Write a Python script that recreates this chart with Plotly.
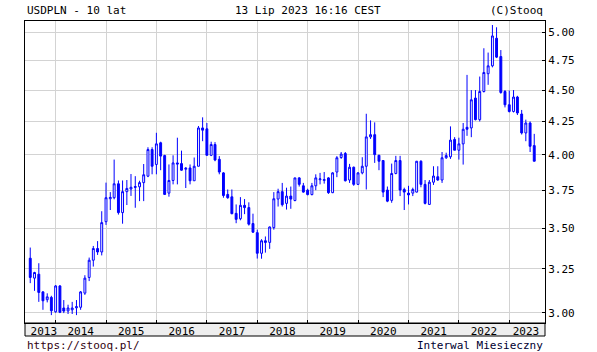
import pandas as pd
import plotly.graph_objects as go

# ---------------- data (USDPLN monthly candles, Jul 2013 - Jul 2023) ----------------
months = pd.date_range("2013-07-01", periods=121, freq="MS")

opens = [
    3.313, 3.195, 3.218, 3.116, 3.072, 3.085, 3.005, 3.150, 3.026, 3.010, 3.016, 3.027,
    3.030, 3.109, 3.199, 3.301, 3.372, 3.351, 3.541, 3.692, 3.699, 3.794, 3.600, 3.740,
    3.758, 3.775, 3.773, 3.802, 3.847, 4.038, 3.930, 4.088, 3.994, 3.730, 3.817, 3.941,
    3.936, 3.896, 3.905, 3.815, 3.917, 4.200, 4.193, 3.996, 4.075, 3.967, 3.870, 3.721,
    3.705, 3.595, 3.560, 3.648, 3.633, 3.529, 3.471, 3.343, 3.420, 3.410, 3.503, 3.690,
    3.740, 3.661, 3.710, 3.680, 3.835, 3.780, 3.750, 3.720, 3.780, 3.822, 3.817, 3.835,
    3.733, 3.876, 3.980, 4.009, 3.820, 3.910, 3.790, 3.870, 3.917, 4.132, 4.149, 3.996,
    3.958, 3.751, 3.681, 3.866, 3.958, 3.755, 3.730, 3.730, 3.737, 3.953, 3.790, 3.654,
    3.805, 3.843, 3.820, 3.978, 3.985, 4.113, 4.033, 4.080, 4.205, 4.200, 4.435, 4.264,
    4.488, 4.636, 4.703, 4.945, 4.783, 4.488, 4.381, 4.328, 4.443, 4.308, 4.162, 4.238,
    4.067,
]
highs = [
    3.378, 3.232, 3.283, 3.121, 3.108, 3.094, 3.155, 3.155, 3.070, 3.044, 3.060, 3.070,
    3.121, 3.212, 3.317, 3.388, 3.418, 3.609, 3.802, 3.737, 3.965, 3.817, 3.817, 3.820,
    3.862, 3.847, 3.815, 3.933, 4.055, 4.055, 4.163, 4.096, 4.000, 3.930, 3.996, 4.126,
    4.030, 3.910, 3.930, 3.980, 4.215, 4.282, 4.238, 4.096, 4.093, 3.990, 3.876, 3.755,
    3.755, 3.654, 3.703, 3.690, 3.668, 3.593, 3.490, 3.430, 3.447, 3.510, 3.737, 3.760,
    3.800, 3.767, 3.775, 3.835, 3.840, 3.800, 3.760, 3.800, 3.860, 3.870, 3.876, 3.840,
    3.875, 3.990, 4.020, 4.020, 3.934, 3.915, 3.875, 3.982, 4.310, 4.258, 4.243, 4.000,
    3.960, 3.775, 3.936, 3.992, 3.992, 3.767, 3.780, 3.767, 3.955, 3.960, 3.820, 3.820,
    3.917, 3.917, 4.020, 4.015, 4.212, 4.130, 4.126, 4.238, 4.626, 4.500, 4.500, 4.612,
    4.856, 4.818, 5.066, 5.045, 4.840, 4.500, 4.496, 4.500, 4.453, 4.340, 4.264, 4.250,
    4.155,
]
lows = [
    3.166, 3.122, 3.060, 3.016, 3.057, 2.987, 3.000, 2.998, 2.998, 2.993, 2.993, 2.987,
    3.016, 3.099, 3.178, 3.263, 3.333, 3.330, 3.520, 3.617, 3.688, 3.587, 3.528, 3.650,
    3.711, 3.632, 3.676, 3.676, 3.840, 3.860, 3.860, 3.889, 3.720, 3.706, 3.790, 3.790,
    3.885, 3.765, 3.790, 3.815, 3.917, 4.100, 3.996, 3.990, 3.953, 3.860, 3.699, 3.692,
    3.589, 3.531, 3.550, 3.590, 3.516, 3.470, 3.311, 3.310, 3.347, 3.370, 3.490, 3.640,
    3.640, 3.620, 3.625, 3.675, 3.775, 3.733, 3.715, 3.715, 3.750, 3.790, 3.795, 3.725,
    3.730, 3.840, 3.970, 3.810, 3.800, 3.780, 3.785, 3.860, 3.755, 4.117, 3.941, 3.889,
    3.703, 3.669, 3.665, 3.860, 3.710, 3.617, 3.654, 3.710, 3.735, 3.770, 3.654, 3.650,
    3.786, 3.815, 3.800, 3.970, 3.970, 4.033, 3.965, 3.929, 4.140, 4.130, 4.258, 4.250,
    4.480, 4.543, 4.690, 4.770, 4.470, 4.360, 4.320, 4.320, 4.300, 4.150, 4.100, 4.020,
    3.953,
]
closes = [
    3.199, 3.228, 3.113, 3.066, 3.088, 3.011, 3.150, 3.002, 3.009, 3.026, 3.026, 3.033,
    3.116, 3.195, 3.301, 3.372, 3.351, 3.535, 3.699, 3.701, 3.794, 3.600, 3.740, 3.762,
    3.770, 3.770, 3.802, 3.857, 4.038, 3.917, 4.080, 3.990, 3.721, 3.817, 3.941, 3.933,
    3.889, 3.903, 3.815, 3.917, 4.200, 4.183, 3.996, 4.075, 3.962, 3.876, 3.714, 3.699,
    3.593, 3.556, 3.648, 3.633, 3.525, 3.474, 3.343, 3.420, 3.410, 3.507, 3.692, 3.740,
    3.652, 3.710, 3.690, 3.835, 3.790, 3.737, 3.720, 3.780, 3.835, 3.828, 3.823, 3.733,
    3.870, 3.978, 4.005, 3.815, 3.910, 3.790, 3.870, 3.917, 4.132, 4.149, 4.001, 3.953,
    3.737, 3.676, 3.866, 3.958, 3.751, 3.737, 3.718, 3.755, 3.953, 3.790, 3.661, 3.805,
    3.848, 3.820, 3.978, 3.994, 4.108, 4.033, 4.080, 4.190, 4.190, 4.421, 4.264, 4.488,
    4.646, 4.703, 4.966, 4.778, 4.480, 4.381, 4.328, 4.443, 4.316, 4.162, 4.238, 4.062,
    3.953,
]

y_ticks = [3.00, 3.25, 3.50, 3.75, 4.00, 4.25, 4.50, 4.75, 5.00]
year_labels = ["2013", "2014", "2015", "2016", "2017", "2018", "2019", "2020", "2021", "2022", "2023"]
year_label_pos = ["2013-10-07", "2014-07-02", "2015-07-02", "2016-07-02", "2017-07-02", "2018-07-02",
                  "2019-07-02", "2020-07-02", "2021-07-02", "2022-07-02", "2023-05-02"]

FONT = "DejaVu Sans Mono"
BLUE = "#0000ff"

fig = go.Figure(go.Candlestick(
    x=months, open=opens, high=highs, low=lows, close=closes,
    increasing=dict(line=dict(color=BLUE, width=1), fillcolor="#ffffff"),
    decreasing=dict(line=dict(color=BLUE, width=1), fillcolor=BLUE),
    hoverinfo="skip", showlegend=False,
))

PLOT_H = 302.0
fig.update_layout(
    width=597, height=352,
    margin=dict(l=25, r=52, t=21, b=29, pad=0),
    paper_bgcolor="white", plot_bgcolor="white",
    font=dict(family=FONT, size=11, color="black"),
    showlegend=False,
    xaxis=dict(
        type="date", range=["2013-05-24", "2023-09-17"],
        rangeslider=dict(visible=False),
        tickmode="array", tickvals=year_label_pos, ticktext=year_labels,
        showgrid=False, ticks="", showline=True, linecolor="black", linewidth=1, mirror=True,
        tickfont=dict(family=FONT, size=11, color="black"),
        ticklabelstandoff=-2,
        minor=dict(tick0="2014-01-01", dtick="M12", showgrid=True, gridcolor="#d3d3d3",
                   gridwidth=1, ticks="inside", ticklen=3, tickcolor="black"),
        zeroline=False, fixedrange=True,
    ),
    yaxis=dict(
        type="log", range=[0.46900, 0.70783], side="right",
        tickmode="array", tickvals=y_ticks, ticktext=[f"{v:.2f}" for v in y_ticks],
        showgrid=True, gridcolor="#d3d3d3", gridwidth=1,
        ticks="inside", ticklen=3, tickcolor="black",
        showline=True, linecolor="black", linewidth=1, mirror=True,
        tickfont=dict(family=FONT, size=11, color="black"),
        zeroline=False, fixedrange=True,
    ),
    shapes=[dict(type="rect", xref="paper", yref="paper", x0=0, x1=1,
                 y0=-13 / PLOT_H, y1=0, fillcolor="#eeeeee",
                 line=dict(color="black", width=1), layer="below")],
    annotations=[
        dict(text="USDPLN - 10 lat", xref="paper", yref="paper", x=0, y=1 + 10.5 / PLOT_H,
             xanchor="left", yanchor="middle", showarrow=False),
        dict(text="13 Lip 2023 16:16 CEST", xref="paper", yref="paper", x=(308 - 25) / 520,
             y=1 + 10.5 / PLOT_H, xanchor="center", yanchor="middle", showarrow=False),
        dict(text="(C)Stooq", xref="paper", yref="paper", x=1, y=1 + 10.5 / PLOT_H,
             xanchor="right", yanchor="middle", showarrow=False),
        dict(text="https://stooq.pl/", xref="paper", yref="paper", x=0, y=-22 / PLOT_H,
             xanchor="left", yanchor="middle", showarrow=False, font=dict(color="#300010")),
        dict(text="Interwal Miesieczny", xref="paper", yref="paper", x=1, y=-22 / PLOT_H,
             xanchor="right", yanchor="middle", showarrow=False, font=dict(color="#000030")),
    ],
)

fig.write_html("out.html")
